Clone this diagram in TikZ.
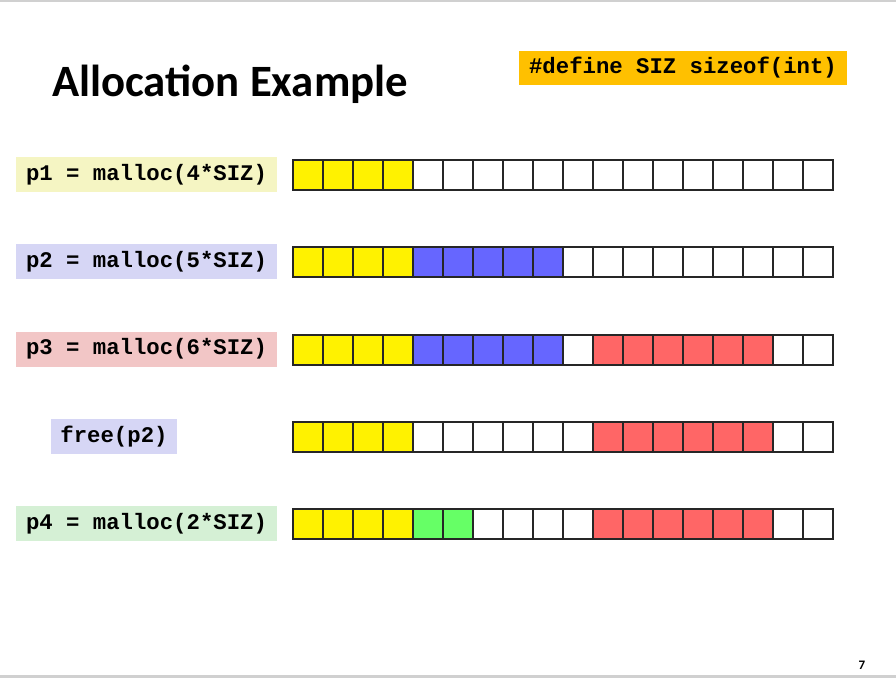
\documentclass[tikz,border=0pt]{standalone}
\usepackage{fontspec}
\setmainfont{Carlito}
\setmonofont{Liberation Mono}
\usepackage{xcolor}
\usetikzlibrary{positioning}
\definecolor{memY}{HTML}{FFF200}
\definecolor{memB}{HTML}{6666FF}
\definecolor{memR}{HTML}{FF6666}
\definecolor{memG}{HTML}{66FF66}
\definecolor{memW}{HTML}{FFFFFF}
\definecolor{bgY}{HTML}{F5F5C3}
\definecolor{bgB}{HTML}{D6D6F5}
\definecolor{bgR}{HTML}{F2C6C6}
\definecolor{bgG}{HTML}{D5F0D5}
\definecolor{hdr}{HTML}{FFC000}
\definecolor{rule}{HTML}{D0D0D0}
\tikzset{
  cell/.style={rectangle, draw=black!85, line width=1.1pt, minimum size=30pt,
    inner sep=0pt, outer sep=0pt},
  call/.style={rectangle, inner sep=0pt, minimum height=35pt,
    font=\ttfamily\bfseries\fontsize{22.3}{24}\selectfont},
  define/.style={rectangle, fill=hdr, inner sep=0pt, minimum height=34pt,
    minimum width=328pt, font=\ttfamily\bfseries\fontsize{22.3}{24}\selectfont},
}

\begin{document}
\begin{tikzpicture}[x=1pt, y=-1pt]
\useasboundingbox (0,0) rectangle (896,678);
\draw[rule, line width=2pt] (0,0.5) -- (896,0.5);
\draw[rule, line width=3pt] (0,676.5) -- (896,676.5);
% heading
\node[anchor=base west, inner sep=0pt, font=\bfseries\fontsize{44.8}{48}\selectfont]
  (title) at (52,96) {Allocation Example};
\node[define] (siz) at (683,68) {\#define SIZ sizeof(int)};
% calls
\node[call, fill=bgY, minimum width=261pt] (lbl1) at (146.5,174.5) {p1 = malloc(4*SIZ)};
\node[call, fill=bgB, minimum width=261pt] (lbl2) at (146.5,261.5) {p2 = malloc(5*SIZ)};
\node[call, fill=bgR, minimum width=261pt] (lbl3) at (146.5,349)   {p3 = malloc(6*SIZ)};
\node[call, fill=bgB, minimum width=126pt] (lbl4) at (114,436.5)   {free(p2)};
\node[call, fill=bgG, minimum width=261pt] (lbl5) at (146.5,523.5) {p4 = malloc(2*SIZ)};
% heap
\foreach \c [count=\i] in {Y,Y,Y,Y,W,W,W,W,W,W,W,W,W,W,W,W,W,W}
  \node[cell, fill=mem\c] (r1c\i) at ({278+30*\i},175) {};
\foreach \c [count=\i] in {Y,Y,Y,Y,B,B,B,B,B,W,W,W,W,W,W,W,W,W}
  \node[cell, fill=mem\c] (r2c\i) at ({278+30*\i},262) {};
\foreach \c [count=\i] in {Y,Y,Y,Y,B,B,B,B,B,W,R,R,R,R,R,R,W,W}
  \node[cell, fill=mem\c] (r3c\i) at ({278+30*\i},350) {};
\foreach \c [count=\i] in {Y,Y,Y,Y,W,W,W,W,W,W,R,R,R,R,R,R,W,W}
  \node[cell, fill=mem\c] (r4c\i) at ({278+30*\i},437) {};
\foreach \c [count=\i] in {Y,Y,Y,Y,G,G,W,W,W,W,R,R,R,R,R,R,W,W}
  \node[cell, fill=mem\c] (r5c\i) at ({278+30*\i},524) {};
% page number
\node[font=\bfseries\fontsize{13}{14}\selectfont, inner sep=0pt] (page) at (862,665) {7};
\end{tikzpicture}
\end{document}
